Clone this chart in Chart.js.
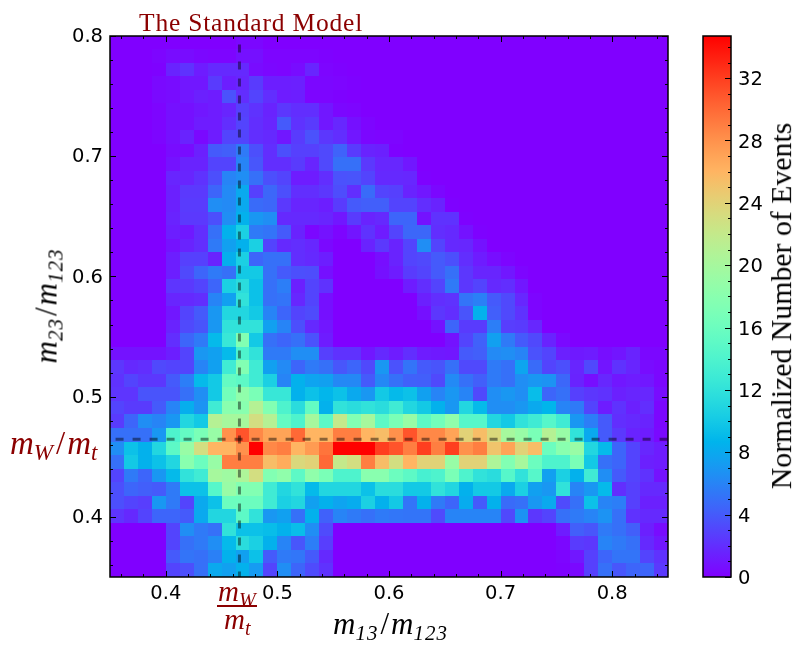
<!DOCTYPE html>
<html>
<head>
<meta charset="utf-8">
<title>The Standard Model</title>
<script src="https://cdn.jsdelivr.net/npm/chart.js@4"></script>
<style>
    body { margin: 0; background: #fff; }
    #wrap { position: relative; width: 807px; height: 651px; overflow: hidden; }
    canvas { position: absolute; top: 0; }
    .txt { position: absolute; white-space: nowrap; font-family: "Liberation Serif", serif; line-height: 1; }
    .red { color: #8b0000; }
    .math { font-style: italic; font-size: 31px; }
    .math sub { font-size: 21px; vertical-align: -6px; line-height: 0; letter-spacing: 1px; }
    .math i { font-style: normal; margin: 0 2px; }
</style>
</head>
<body>
<div id="wrap">
    <canvas id="heat" width="807" height="651" style="left:0"></canvas>
    <canvas id="bar" width="127" height="651" style="left:680px"></canvas>
    <div class="txt red" style="left:139px;top:10px;font-size:25.5px;letter-spacing:.8px">The Standard Model</div>
    <div class="txt math" style="left:333px;top:608px">m<sub>13</sub><i>/</i>m<sub>123</sub></div>
    <div class="txt math" style="left:46px;top:306px;transform:translate(-50%,-50%) rotate(-90deg)">m<sub>23</sub><i>/</i>m<sub>123</sub></div>
    <div class="txt math red" style="left:10px;top:427px;font-size:33px">m<sub style="font-size:23px">W</sub><i>/</i>m<sub style="font-size:23px">t</sub></div>
    <div class="txt math red" style="left:218px;top:577px;font-size:29px">m<sub style="font-size:20px">W</sub></div>
    <div style="position:absolute;left:217px;top:605px;width:40px;height:2px;background:#8b0000"></div>
    <div class="txt math red" style="left:224px;top:605px;font-size:29px">m<sub style="font-size:20px">t</sub></div>
    <div class="txt" style="left:781px;top:306px;font-size:29.8px;transform:translate(-50%,-50%) rotate(-90deg)">Normalized Number of Events</div>
</div>
<script>
// Bin layout of the histogram
const xRange = [0.35, 0.85];
const yRange = [0.35, 0.8];
const massRatioX = 0.466;
const massRatioY = 0.4645;

// Tick positions
const xTicks = [0.4, 0.5, 0.6, 0.7, 0.8];
const yTicks = [0.4, 0.5, 0.6, 0.7, 0.8];
const xMinor = [0.36, 0.38, 0.42, 0.44, 0.46, 0.48, 0.52, 0.54, 0.56, 0.58, 0.62, 0.64, 0.66, 0.68, 0.72, 0.74, 0.76, 0.78, 0.82, 0.84];
const yMinor = [0.36, 0.38, 0.42, 0.44, 0.46, 0.48, 0.52, 0.54, 0.56, 0.58, 0.62, 0.64, 0.66, 0.68, 0.72, 0.74, 0.76, 0.78];
const barTicks = [0, 4, 8, 12, 16, 20, 24, 28, 32];
const barMinor = [1, 2, 3, 5, 6, 7, 9, 10, 11, 13, 14, 15, 17, 18, 19, 21, 22, 23, 25, 26, 27, 29, 30, 31, 33, 34];
const barMax = 34.7;

// Cell values, top row first. Short rows are zero to the right.
const cellRows = [
    [0,0,0,0,0,0,0,0,0,.3,.3],
    [0,0,0,.2,.5,.5,.3,.2,.2,.7,.7,.2,.2,.2,.2,.1],
    [0,0,0,.1,1.5,2.2,1.2,1.8,1.8,1.8,.5,.3,.2,.5,1.6,.2,.1],
    [0,0,0,.4,.5,1,1,2.6,1.3,1.6,2.6,1.3,1.3,1.4,.3,.3,.2,.1],
    [0,0,0,.4,.5,1,1.4,1.2,3.6,2,3,2,1.2,1.3,.2,.2,.1],
    [0,0,0,.2,.7,.7,1,1.2,1.6,2.8,2.2,1.5,2.4,2,2,1,.3,.2],
    [0,0,0,.2,.7,.7,1.2,1.2,2,3,2,1.6,4,2.2,2.6,1,1.7,.7,.2],
    [0,0,0,.2,.7,1.5,.4,1.2,3,3,2,1.8,1,2.6,3.6,2.4,2,1,.3,.2,.2],
    [0,0,0,0,.5,.5,1.4,4,4.2,5.5,3.5,2,3.5,2.8,2.8,3.2,4.4,2.6,1.5,1.4,.1],
    [0,0,0,0,.8,1.5,1.5,3,3,6,3.8,2,2,2.6,1.6,3.2,5,5,2.5,1.7,1.7,1],
    [0,0,0,0,1.6,1.6,2.2,3.5,6,6.5,5,3.5,3,1.2,1.2,2,3.6,3.7,3,1.8,1.8,1.7,.1],
    [0,0,0,0,1.4,2.5,2.5,4.5,6.3,8,2.8,4.6,3.5,2,2,2.4,3.4,2,4.8,3,2.8,1.5,1,.3],
    [0,0,0,0,1.4,2.6,2.6,6.5,6.3,8,4.8,4.6,2.5,1.6,1.6,1.3,2.6,4,4.2,4.2,3,3,2,1.5,.1],
    [0,0,0,0,1.5,2.5,2.5,3.5,6.5,8.5,7,6.5,1.8,1.8,1.8,1.6,1,2.6,1.5,1.8,4.5,4.5,.8,2.2,2.2,.1],
    [0,0,0,0,1.3,1.1,2,5,8.5,10.5,5.5,5.2,4,1.5,.3,.8,.2,.9,2.2,1.2,3,4.6,4.6,2,1.8,.8,.1],
    [0,0,0,0,.8,1.5,2,5.5,7.5,8.5,10.5,3,1.8,2,1.7,.4,0,0,1.5,2.5,1.5,3,6.5,3,1.8,1.7,.8],
    [0,0,0,0,1.3,2.8,2.8,1.5,8.3,10.5,4.5,5,5,2,1.8,1.3,0,0,0,.6,1.5,3,3.2,4,3.5,2,1.2,.6,.2],
    [0,0,0,0,1.3,3.2,4.5,5.5,5,10,10,5,4,3.5,3.4,.7,0,0,0,.7,1.2,2.6,3,4,5,2.4,1.6,1.6,1,.2],
    [0,0,0,0,2.3,2.5,3,4.5,10.5,11.5,9.5,5,5.7,1.4,3,2.2,0,0,0,0,0,1.2,2,3,5.5,2.4,3,1.8,2,1],
    [0,0,0,0,1.6,1.8,2,6,7.5,12,9.5,5,5.2,1.7,3,.7,0,0,0,0,0,0,1.4,2,2.2,5.2,5.8,4,3.2,1.7,.2],
    [0,0,0,0,1,3,4,7,11,11,10,6,4.5,3,3.3,.7,0,0,0,0,0,0,.7,2.4,2,3.7,8.5,4.2,3.2,2.2,.2],
    [0,0,0,0,1.5,3.2,3.7,7,12,12,12,7.5,6,3.5,1.8,1,0,0,0,0,0,0,0,.8,4.5,2.6,2.6,5.7,2.7,2.6,1.7],
    [0,0,0,0,2,4.5,5.5,9,12.5,17.5,10,5,4.5,5,3.6,1.2,0,0,0,0,0,0,0,0,.8,3,4.3,7.5,5.5,4,3.2,1.5,.4],
    [.8,.8,.8,.8,1.3,3,7,7.5,9,14,12,5.5,5.5,6.5,6.5,2.8,2.2,2.2,1,1.8,1.2,2,1.2,1.1,1,4,4.2,6.3,6.5,6,3.6,3,1.4,1.1,1.2,.6,.9,1.5,.3,.3],
    [2.4,1.8,2,3.2,3,3,6,7.5,13,17.5,13,7.5,6.3,4.5,5.5,5,3.8,4.5,3.2,7,3.6,5.2,4,3.7,5,3.2,3.2,5.5,5,7.8,4.8,3,3.5,1.6,3.2,.9,2.2,1.6,.5,.3],
    [2.2,3,2.4,2.4,4,5.7,9,10,15.5,15,13,10.5,6,8.5,7.7,7.5,6.2,6.2,4,6.2,5,4.3,4.2,3.2,6.3,5,4.2,5.5,5,6.5,7,6.8,4.6,1.5,.6,1.7,1,1.2,1,.3],
    [2.3,2.3,3.7,3.7,3.7,5,6.5,10,16.5,18.5,17,12.5,12.5,8.5,9.5,8.8,9.5,8,7,10,9,9.5,7.5,6,7,6,3.2,6.5,7,6.5,9.2,4.5,5,2.8,2.4,2.2,1.4,1.6,1.7,.5],
    [3,2.6,2.6,4,6,8.3,6.8,13,18,18,21,17.5,14,11.5,15.5,8.5,12,11.5,12,11.5,13,11,10,8.5,7,11,9,6.5,6.5,7,8,8.7,6,5.5,3,1.2,2.2,1.4,2,.3],
    [2.6,4.5,6.5,6,7,11,10,21,20,20,23,21,15.5,14,20,15,22,17.5,20,15,17,19,15,16.5,18.5,14.5,14.5,11,10,12,13,14.5,13,7,5.7,4,2,1.8,1.5,.3],
    [5,5,5,7,14,15.5,17,19,28,31,28.5,27,27,30,26,26,29,29,26,25.5,28,31,28.5,28.5,27,24,25.5,23.5,20,19,17,21,19,12,8,4,2.5,1.5,1.2,.4],
    [6.5,9.5,8.5,11,15,19,23,26,26,28,35,28.5,29,26,27.5,29.5,35,35,35,32,31,29,32,29,32,28,29,25,27,24,25.5,16,18,19,11,9,4.5,3,1.7,1.2],
    [5,10,8.5,9.5,11,18,16,19,29,29,29,25.5,26.5,23.5,24,30,22,23,29,25.5,23,26,24,24,19,24,24,20.5,17.5,20,16,14,14,17,10,5,4.5,3,1.4,1.2],
    [3,5.5,4.5,7,9,12,13,20,19.5,20.5,23,17.5,18.5,15,18.5,17,14,14,18,18,16,15,13.5,14,17,14,12,11.5,14.5,12,14.5,7.5,10.5,8.5,13,6.5,4,3,2.2,.8],
    [3.5,4.5,4.2,4,5.5,9.5,9.5,14.5,19,17.5,17.5,13,11,12,9,11,11,11,9.5,11.5,11.5,10,10,12,11,8.5,10,10,8,10.5,7.5,7,12,6,7,9,2,2.8,1.8,1.8],
    [3.5,3,2.7,7,5.5,3,8,9.5,16,16,16,13,10.5,11,7.5,8.5,7.7,8.2,10.5,8.5,10,5.2,8.5,5.5,4.5,8.2,4,8.5,4.8,5,7,8,3.3,5,9.5,6,5.7,2.8,1.4,1.4],
    [2.3,1.8,3,4.5,4.5,4,8,11,11,15,12,7,7.5,5,8.5,4.3,6,5.5,5,5.5,5.3,5.2,5.2,3.3,6,6,6,6,3.2,6.8,2.4,3,5,5.5,6,6.8,5,2.2,1.8,1.8],
    [0,0,0,0,3,6.5,5.5,5,12,9.5,9.5,9.2,8.5,9.3,6.5,3.3,0,0,0,0,0,0,0,0,0,0,0,0,0,0,0,0,1.2,4.2,3.8,5.5,5,4.2,1.4,.5],
    [0,0,0,0,3,5,5.5,6.5,9,11.5,10.5,8.5,6,3.8,5.7,2.7,0,0,0,0,0,0,0,0,0,0,0,0,0,0,0,0,.3,2.6,2.4,6,5.5,5,1.8,1],
    [0,0,0,0,4,5.2,5,5.8,8.5,7.5,9.5,4,5.5,5.3,4,1.8,0,0,0,0,0,0,0,0,0,0,0,0,0,0,0,0,.2,1,2.8,4.5,5.2,5.2,3,2.2],
    [0,0,0,0,3,3.5,5,8,7.5,8.5,7.2,3,6.5,4.5,3.3,2.2,0,0,0,0,0,0,0,0,0,0,0,0,0,0,0,0,.1,.4,2.8,5,3.8,4.5,4.5,2.5]
];

const tickFont = { family: '"DejaVu Sans"', size: 19.5 };
const nCols = 40;
const binW = (xRange[1] - xRange[0]) / nCols;
const binH = (yRange[1] - yRange[0]) / cellRows.length;

// matplotlib 'rainbow' colormap
function rainbow(t) {
    t = Math.min(1, Math.max(0, t));
    const r = Math.min(1, Math.abs(2 * t - 0.5));
    const g = Math.sin(Math.PI * t);
    const b = Math.cos(Math.PI * t / 2);
    return `rgb(${Math.round(r * 255)},${Math.round(g * 255)},${Math.round(b * 255)})`;
}

// One image per colour. It overhangs right and down, the next cell paints over that.
const swatches = {};
function swatch(value) {
    const color = rainbow(value / barMax);
    if (!swatches[color]) {
        const c = document.createElement('canvas');
        c.width = 16;
        c.height = 16;
        const g = c.getContext('2d');
        g.fillStyle = color;
        g.fillRect(1, 1, 15, 15);
        swatches[color] = c;
    }
    return swatches[color];
}

const cells = [];
cellRows.forEach((row, r) => {
    for (let c = 0; c < nCols; c++) {
        cells.push({
            x: xRange[0] + (c + 0.5) * binW,
            y: yRange[1] - (r + 0.5) * binH,
            v: row[c] || 0
        });
    }
});

function strokeTick(g, x1, y1, x2, y2) {
    g.beginPath();
    g.moveTo(x1, y1);
    g.lineTo(x2, y2);
    g.stroke();
}

// Inward ticks on all sides, and the frame
const heatFrame = {
    id: 'heatFrame',
    beforeDatasetsDraw(chart) {
        chart.ctx.imageSmoothingEnabled = false;
    },
    afterDraw(chart) {
        const g = chart.ctx;
        const a = chart.chartArea;
        const sx = chart.scales.x;
        const sy = chart.scales.y;
        g.save();
        g.strokeStyle = '#000';
        g.lineWidth = 1;
        const xMark = (list, len) => list.forEach(v => {
            const p = Math.round(sx.getPixelForValue(v)) + 0.5;
            strokeTick(g, p, a.bottom, p, a.bottom - len);
            strokeTick(g, p, a.top, p, a.top + len);
        });
        const yMark = (list, len) => list.forEach(v => {
            const p = Math.round(sy.getPixelForValue(v)) + 0.5;
            strokeTick(g, a.left, p, a.left + len, p);
            strokeTick(g, a.right, p, a.right - len, p);
        });
        xMark(xTicks, 6);
        xMark(xMinor, 3);
        yMark(yTicks, 6);
        yMark(yMinor, 3);
        g.lineWidth = 1.5;
        g.strokeRect(a.left, a.top, a.right - a.left, a.bottom - a.top);
        g.restore();
    }
};

new Chart(document.getElementById('heat'), {
    type: 'scatter',
    data: {
        datasets: [{
            data: [{ x: massRatioX, y: 0.793 }, { x: massRatioX, y: 0.35 }],
            showLine: true,
            pointRadius: 0,
            borderColor: 'rgba(0,0,0,0.45)',
            borderWidth: 3,
            borderDash: [8, 9],
            order: 1
        }, {
            data: [{ x: 0.355, y: massRatioY }, { x: 0.85, y: massRatioY }],
            showLine: true,
            pointRadius: 0,
            borderColor: 'rgba(0,0,0,0.45)',
            borderWidth: 3,
            borderDash: [8, 9],
            order: 1
        }, {
            data: cells,
            pointRadius: 8,
            pointStyle: ctx => swatch(ctx.raw ? ctx.raw.v : 0),
            order: 2
        }]
    },
    options: {
        responsive: false,
        animation: false,
        events: [],
        layout: { padding: { top: 36, right: 139, left: 0, bottom: 0 } },
        plugins: { legend: { display: false }, tooltip: { enabled: false } },
        scales: {
            x: {
                type: 'linear',
                min: xRange[0],
                max: xRange[1],
                grid: { display: false, drawTicks: false },
                border: { display: false },
                afterBuildTicks: s => { s.ticks = xTicks.map(value => ({ value })); },
                afterFit: s => { s.height = 74; },
                ticks: {
                    autoSkip: false,
                    maxRotation: 0,
                    padding: 5,
                    color: '#000',
                    font: tickFont,
                    callback: v => v.toFixed(1)
                }
            },
            y: {
                type: 'linear',
                min: yRange[0],
                max: yRange[1],
                grid: { display: false, drawTicks: false },
                border: { display: false },
                afterBuildTicks: s => { s.ticks = yTicks.map(value => ({ value })); },
                afterFit: s => { s.width = 110; },
                ticks: {
                    autoSkip: false,
                    padding: 7,
                    labelOffset: 1,
                    color: '#000',
                    font: tickFont,
                    callback: v => v.toFixed(1)
                }
            }
        }
    },
    plugins: [heatFrame]
});

// Colour bar
const barFrame = {
    id: 'barFrame',
    afterDraw(chart) {
        const g = chart.ctx;
        const a = chart.chartArea;
        const sy = chart.scales.y;
        g.save();
        g.strokeStyle = '#000';
        g.lineWidth = 1;
        const mark = (list, len) => list.forEach(v => {
            const p = Math.round(sy.getPixelForValue(v)) + 0.5;
            strokeTick(g, a.right, p, a.right - len, p);
        });
        mark(barTicks, 6);
        mark(barMinor, 3);
        g.lineWidth = 1.5;
        g.strokeRect(a.left, a.top, a.right - a.left, a.bottom - a.top);
        g.restore();
    }
};

new Chart(document.getElementById('bar'), {
    type: 'bar',
    data: {
        labels: ['events'],
        datasets: [{
            data: [[0, barMax]],
            barPercentage: 1,
            categoryPercentage: 1,
            backgroundColor: ctx => {
                const a = ctx.chart.chartArea;
                if (!a) return '#7f00ff';
                const grad = ctx.chart.ctx.createLinearGradient(0, a.bottom, 0, a.top);
                for (let i = 0; i <= 64; i++) grad.addColorStop(i / 64, rainbow(i / 64));
                return grad;
            }
        }]
    },
    options: {
        responsive: false,
        animation: false,
        events: [],
        layout: { padding: { top: 36, left: 23, right: 0, bottom: 74 } },
        plugins: { legend: { display: false }, tooltip: { enabled: false } },
        scales: {
            x: { display: false },
            y: {
                position: 'right',
                min: 0,
                max: barMax,
                grid: { display: false, drawTicks: false },
                border: { display: false },
                afterBuildTicks: s => { s.ticks = barTicks.map(value => ({ value })); },
                afterFit: s => { s.width = 76; },
                ticks: { autoSkip: false, padding: 7, labelOffset: 2, color: '#000', font: tickFont }
            }
        }
    },
    plugins: [barFrame]
});
</script>
</body>
</html>
